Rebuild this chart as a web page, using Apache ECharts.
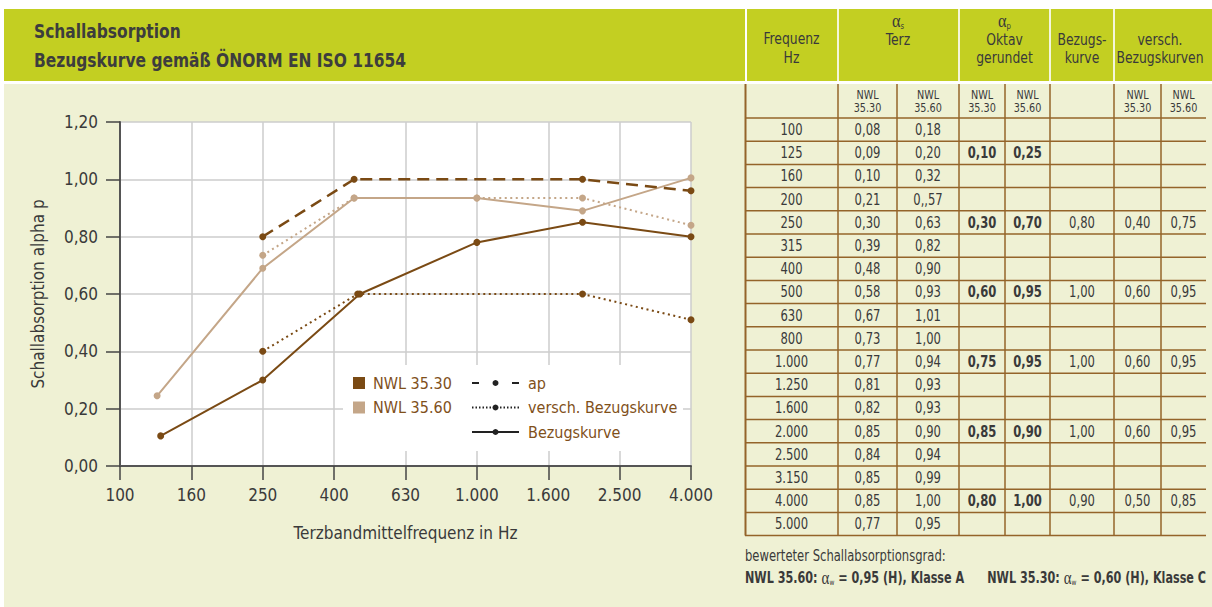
<!DOCTYPE html>
<html>
<head>
<meta charset="utf-8">
<script src="https://cdn.jsdelivr.net/npm/echarts@6/dist/echarts.min.js"></script>
<style>
html,body{margin:0;padding:0;background:#fff;}
#chart{width:1212px;height:607px;}
</style>
</head>
<body>
<div id="chart"></div>
<script>
// ---------- chart data ----------
const xTickLabels = ['100','160','250','400','630','1.000','1.600','2.500','4.000'];
const yTickStep = 0.2;
// x positions are in tick-step units (0 = 100 Hz, 8 = 4.000 Hz)
const nwl3530_ap_x      = [0.57, 2, 3.36, 5, 6.48, 8];
const nwl3530_ap_y      = [0.105, 0.30, 0.60, 0.78, 0.85, 0.80];
const nwl3530_versch_x  = [2, 3.33, 6.48, 8];
const nwl3530_versch_y  = [0.40, 0.60, 0.60, 0.51];
const nwl3530_bezug_x   = [2, 3.28, 6.48, 8];
const nwl3530_bezug_y   = [0.80, 1.00, 1.00, 0.96];
const nwl3560_ap_x      = [0.52, 2, 3.28, 5, 6.48, 8];
const nwl3560_ap_y      = [0.245, 0.69, 0.935, 0.935, 0.89, 1.005];
const nwl3560_versch_x  = [2, 3.28, 5, 6.48, 8];
const nwl3560_versch_y  = [0.735, 0.935, 0.935, 0.935, 0.84];

// ---------- table data ----------
const freqLabels = ['100','125','160','200','250','315','400','500','630','800','1.000','1.250','1.600','2.000','2.500','3.150','4.000','5.000'];
const alphaS_3530 = ['0,08','0,09','0,10','0,21','0,30','0,39','0,48','0,58','0,67','0,73','0,77','0,81','0,82','0,85','0,84','0,85','0,85','0,77'];
const alphaS_3560 = ['0,18','0,20','0,32','0,,57','0,63','0,82','0,90','0,93','1,01','1,00','0,94','0,93','0,93','0,90','0,94','0,99','1,00','0,95'];
const octaveRows = [1, 4, 7, 10, 13, 16];
const alphaP_3530 = ['0,10','0,30','0,60','0,75','0,85','0,80'];
const alphaP_3560 = ['0,25','0,70','0,95','0,95','0,90','1,00'];
const bezugskurve = ['','0,80','1,00','1,00','1,00','0,90'];
const versch_3530 = ['','0,40','0,60','0,60','0,60','0,50'];
const versch_3560 = ['','0,75','0,95','0,95','0,95','0,85'];

// ---------- styles ----------
const FONT = "'DejaVu Sans Condensed','Roboto',sans-serif";
const SERIF = "'Liberation Serif','DejaVu Serif',serif";
const DARK = '#7a4a14';
const LIGHT = '#c4a688';
const TXT = '#3a3a3a';
const GREEN = '#c3cf22';
const CREAM = '#eff1d4';
const RULE = '#94642a';
const SX = 0.86; // horizontal condensing of table / title texts

function zip(xs, ys){ return xs.map((x,i)=>[x, ys[i]]); }

const graphics = [];
// backgrounds
graphics.push({type:'rect', z:-10, shape:{x:4,y:84,width:1208,height:523}, style:{fill:CREAM}});
graphics.push({type:'rect', z:-10, shape:{x:4,y:9,width:741,height:72}, style:{fill:GREEN}});
graphics.push({type:'rect', z:-10, shape:{x:747,y:9,width:465,height:72}, style:{fill:GREEN}});
// legend white box
graphics.push({type:'rect', z:1, shape:{x:343,y:365,width:340,height:86}, style:{fill:'#fff'}});

function txt(x,y,t,opt){
  opt = opt||{};
  graphics.push({type:'text', z:5, x:x, y:y, scaleX:opt.sx||SX,
    style:{x:0,y:0,text:t,font:(opt.bold?'bold ':'')+(opt.size||15)+'px '+FONT,fill:opt.color||TXT,
      textAlign:opt.align||'center',textVerticalAlign:'middle',lineHeight:opt.lh}});
}
function rich(x,y,t,rs,align,sx){
  graphics.push({type:'text', z:5, x:x, y:y, scaleX:sx||SX,
    style:{x:0,y:0,text:t,rich:rs,textAlign:align||'center',textVerticalAlign:'middle',fill:TXT,font:'15px '+FONT}});
}
// title
txt(34,31,'Schallabsorption',{size:20,align:'left',sx:0.86,bold:true,color:'#3d3d3d'});
txt(34,60,'Bezugskurve gemäß ÖNORM EN ISO 11654',{size:20,align:'left',sx:0.86,bold:true,color:'#3d3d3d'});

// table
const colX = [745, 838, 897, 959, 1005, 1050, 1114, 1161, 1206];
const rowTop = 118, rowH = 23.2;
const headSep = [838, 959, 1050, 1114];
headSep.forEach(x=>graphics.push({type:'rect', z:-5, shape:{x:x-1,y:9,width:2,height:72}, style:{fill:'#f4f6dc'}}));
// header texts
txt(791.5,39,'Frequenz',{size:16}); txt(791.5,58,'Hz',{size:16});
const alphaRich = {
  a:{fontFamily:SERIF,fontSize:19,color:TXT},
  s:{fontFamily:FONT,fontSize:9,color:TXT,padding:[9,0,0,0]}
};
rich(898,21,'{a|α}{s|s}',alphaRich); txt(898,40,'Terz',{size:16});
rich(1004.5,21,'{a|α}{s|p}',alphaRich); txt(1004.5,40,'Oktav',{size:16}); txt(1004.5,58,'gerundet',{size:16});
txt(1082,40,'Bezugs-',{size:16}); txt(1082,58,'kurve',{size:16});
txt(1160,40,'versch.',{size:16}); txt(1160,58,'Bezugskurven',{size:16});
// sub header
[867.5, 928, 982, 1027.5, 1137.5, 1183.5].forEach((c,i)=>{
  const lab = (i%2===0)?'35.30':'35.60';
  txt(c,101,'NWL\n'+lab,{size:12.5,lh:12.5});
});
// rules
for(let k=0;k<=freqLabels.length;k++){
  const y = rowTop + rowH*k;
  graphics.push({type:'line', z:2, shape:{x1:745,y1:y,x2:1206,y2:y}, style:{stroke:RULE,lineWidth:1.5}});
}
colX.slice(0,8).forEach((x,i)=>{
  graphics.push({type:'line', z:2, shape:{x1:x+(i===0?0.5:0),y1:84,x2:x+(i===0?0.5:0),y2:rowTop+rowH*freqLabels.length}, style:{stroke:RULE,lineWidth:i===0?2:1.5}});
});
// body
freqLabels.forEach((f,i)=>{
  const y = rowTop + rowH*(i+0.5);
  txt(791.5,y,f); txt(867.5,y,alphaS_3530[i]); txt(928,y,alphaS_3560[i]);
});
octaveRows.forEach((r,j)=>{
  const y = rowTop + rowH*(r+0.5);
  txt(982,y,alphaP_3530[j],{bold:true}); txt(1027.5,y,alphaP_3560[j],{bold:true});
  if(bezugskurve[j]) txt(1082,y,bezugskurve[j]);
  if(versch_3530[j]) txt(1137.5,y,versch_3530[j]);
  if(versch_3560[j]) txt(1183.5,y,versch_3560[j]);
});
// footnote
txt(745,556,'bewerteter Schallabsorptionsgrad:',{align:'left'});
const footRich = {
  b:{fontFamily:FONT,fontSize:15,fontWeight:'bold',color:TXT},
  a:{fontFamily:SERIF,fontSize:18,color:TXT},
  w:{fontFamily:FONT,fontSize:8,color:TXT,padding:[8,0,0,0]}
};
rich(745,578,'{b|NWL 35.60: }{a|α}{w|w}{b| = 0,95 (H), Klasse A}',footRich,'left',0.83);
rich(1206,578,'{b|NWL 35.30: }{a|α}{w|w}{b| = 0,60 (H), Klasse C}',footRich,'right',0.83);

const axisText = {fontFamily:FONT,fontSize:17,color:TXT};

const option = {
  animation:false,
  graphic:{elements:graphics},
  grid:{left:120,right:521,top:122,bottom:141,show:true,backgroundColor:'#fff',borderWidth:0},
  xAxis:{
    type:'value',min:0,max:8,interval:1,
    axisLine:{show:true,onZero:false,lineStyle:{color:'#555',width:2}},
    axisTick:{show:true,length:14,lineStyle:{color:'#444',width:1.5}},
    splitLine:{show:true,lineStyle:{color:'#cdcdcd',width:1.5}},
    axisLabel:{...axisText,margin:20,formatter:v=>xTickLabels[Math.round(v)]},
    name:'Terzbandmittelfrequenz in Hz',nameLocation:'middle',nameGap:58,nameTextStyle:{...axisText,fontSize:17}
  },
  yAxis:{
    type:'value',min:0,max:1.2,interval:yTickStep,
    axisLine:{show:true,lineStyle:{color:'#555',width:2}},
    axisTick:{show:true,length:14,lineStyle:{color:'#444',width:1.5}},
    splitLine:{show:true,lineStyle:{color:'#cdcdcd',width:1.5}},
    axisLabel:{...axisText,margin:22,formatter:v=>v.toFixed(2).replace('.',',')},
    name:'Schallabsorption alpha p',nameLocation:'middle',nameGap:74,nameTextStyle:{...axisText,fontSize:17}
  },
  legend:[
    {left:353,top:373,padding:0,orient:'vertical',itemWidth:12,itemHeight:12,itemGap:4.5,
     textStyle:{fontFamily:FONT,fontSize:16,color:'#80501a',lineHeight:20,padding:[0,0,0,3]},
     data:[{name:'NWL 35.30',icon:'rect'},{name:'NWL 35.60',icon:'rect'}],selectedMode:false},
    {left:471,top:373,padding:0,orient:'vertical',itemWidth:47,itemHeight:7.5,itemGap:4.5,
     textStyle:{fontFamily:FONT,fontSize:16,color:'#80501a',lineHeight:20,padding:[0,0,0,4]},
     data:['ap','versch. Bezugskurve','Bezugskurve'],selectedMode:false}
  ],
  series:[
    {name:'NWL 35.30',type:'line',data:[],itemStyle:{color:DARK},lineStyle:{color:DARK}},
    {name:'NWL 35.60',type:'line',data:[],itemStyle:{color:LIGHT},lineStyle:{color:LIGHT}},
    {name:'ap',type:'line',data:[],symbol:'circle',itemStyle:{color:'#222'},lineStyle:{color:'#222',width:1.5,type:[7,33]}},
    {name:'versch. Bezugskurve',type:'line',data:[],symbol:'circle',itemStyle:{color:'#222'},lineStyle:{color:'#222',width:1.5,type:[1.5,2]}},
    {name:'Bezugskurve',type:'line',data:[],symbol:'circle',itemStyle:{color:'#222'},lineStyle:{color:'#222',width:1.5,type:'solid'}},

    {name:'s3560_versch',type:'line',z:3,data:zip(nwl3560_versch_x,nwl3560_versch_y),symbol:'circle',symbolSize:7,
      itemStyle:{color:LIGHT},lineStyle:{color:LIGHT,width:2,type:[2,3.5]}},
    {name:'s3560_ap',type:'line',z:3,data:zip(nwl3560_ap_x,nwl3560_ap_y),symbol:'circle',symbolSize:7,
      itemStyle:{color:LIGHT},lineStyle:{color:LIGHT,width:2}},
    {name:'s3530_bezug',type:'line',z:4,data:zip(nwl3530_bezug_x,nwl3530_bezug_y),symbol:'circle',symbolSize:7,
      itemStyle:{color:DARK},lineStyle:{color:DARK,width:2.5,type:[12,7]}},
    {name:'s3530_versch',type:'line',z:4,data:zip(nwl3530_versch_x,nwl3530_versch_y),symbol:'circle',symbolSize:7,
      itemStyle:{color:DARK},lineStyle:{color:DARK,width:2,type:[2,3.5]}},
    {name:'s3530_ap',type:'line',z:4,data:zip(nwl3530_ap_x,nwl3530_ap_y),symbol:'circle',symbolSize:7,
      itemStyle:{color:DARK},lineStyle:{color:DARK,width:2}}
  ]
};
const chart = echarts.init(document.getElementById('chart'),null,{renderer:'svg'});
chart.setOption(option);
</script>
</body>
</html>
